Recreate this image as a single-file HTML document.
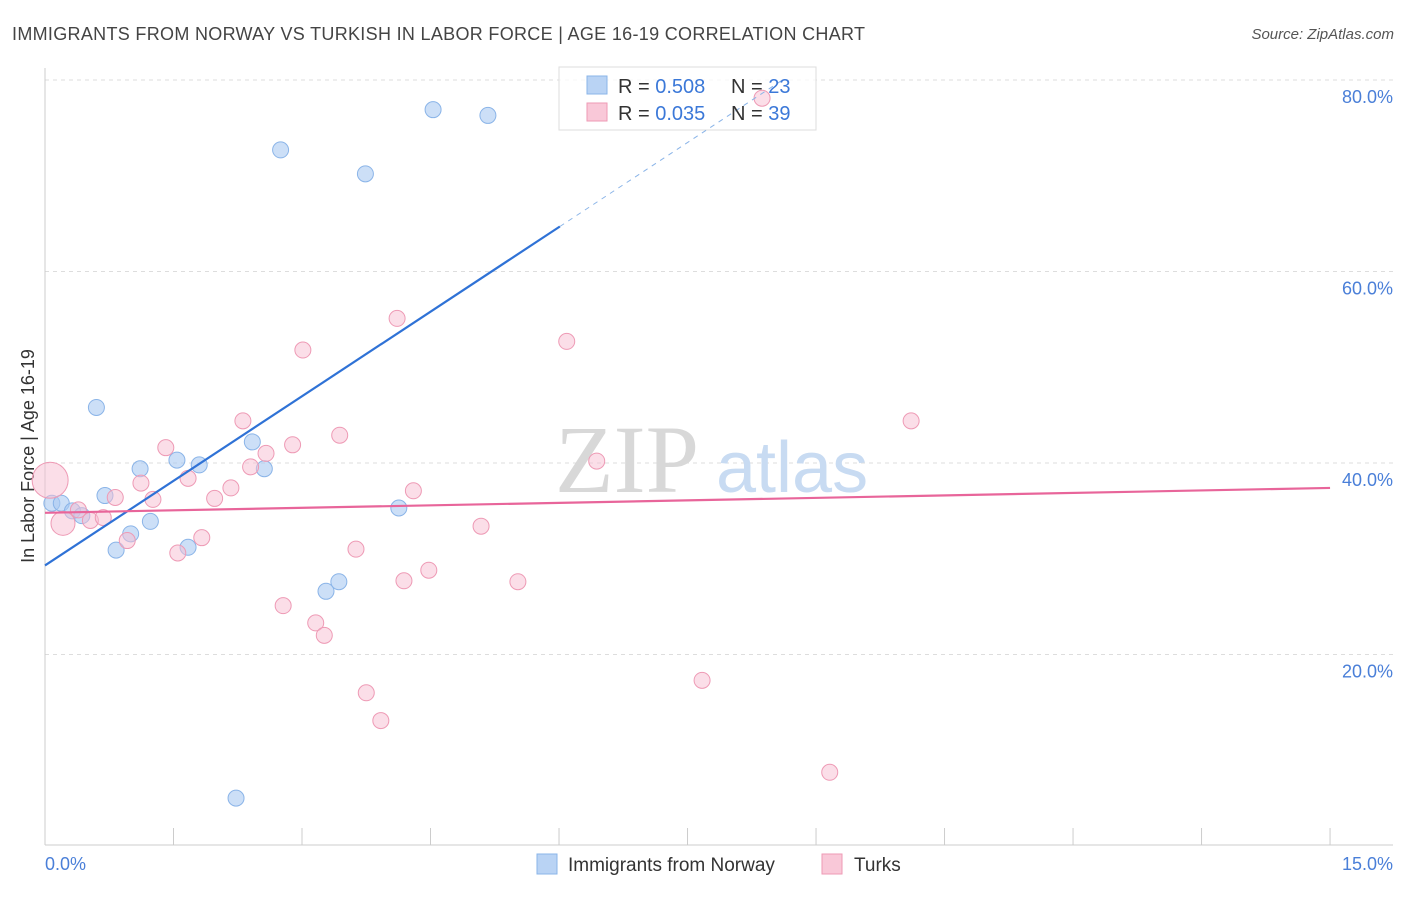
<!DOCTYPE html>
<html><head><meta charset="utf-8"><style>
body{margin:0;background:#fff;font-family:"Liberation Sans",sans-serif;}
</style></head><body>
<svg id="chart" width="1406" height="892" xmlns="http://www.w3.org/2000/svg">
<text x="12" y="40" font-size="18" fill="#444" textLength="853">IMMIGRANTS FROM NORWAY VS TURKISH IN LABOR FORCE | AGE 16-19 CORRELATION CHART</text>
<text x="1394" y="39" font-size="15" fill="#555" font-style="italic" text-anchor="end">Source: ZipAtlas.com</text>
<g id="grid"></g>
<text x="555" y="492" font-size="96" fill="#d8d8d8" font-family="Liberation Serif,serif">ZIP</text>
<text x="716" y="492" font-size="72" fill="#c8dbf2">atlas</text>
<line x1="45" y1="68" x2="45" y2="845" stroke="#ccc"/>
<line x1="45" y1="845" x2="1393" y2="845" stroke="#ccc"/>
<text transform="translate(34,456) rotate(-90)" font-size="18" fill="#333" text-anchor="middle">In Labor Force | Age 16-19</text>
<text x="45" y="870" font-size="18" fill="#4a7fd8">0.0%</text>
<text x="1393" y="870" font-size="18" fill="#4a7fd8" text-anchor="end">15.0%</text>
<rect x="559" y="67" width="257" height="63" fill="#fff" fill-opacity="0.75" stroke="#ddd"/>
<g id="marks"></g>
<rect x="587" y="76" width="20" height="18" fill="#b9d3f4" stroke="#8ab4e8"/>
<rect x="587" y="103" width="20" height="18" fill="#f9c8d8" stroke="#ee9ab5"/>
<text x="618" y="93" font-size="20" fill="#333">R = <tspan fill="#3b78d8">0.508</tspan></text>
<text x="731" y="93" font-size="20" fill="#333">N = <tspan fill="#3b78d8">23</tspan></text>
<text x="618" y="120" font-size="20" fill="#333">R = <tspan fill="#3b78d8">0.035</tspan></text>
<text x="731" y="120" font-size="20" fill="#333">N = <tspan fill="#3b78d8">39</tspan></text>
<rect x="537" y="854" width="20" height="20" fill="#b9d3f4" stroke="#8ab4e8"/>
<text x="568" y="871" font-size="19" fill="#333">Immigrants from Norway</text>
<rect x="822" y="854" width="20" height="20" fill="#f9c8d8" stroke="#ee9ab5"/>
<text x="854" y="871" font-size="19" fill="#333">Turks</text>
</svg>
<script>
const yTicks=[20,40,60,80];
const xTickCount=10;
const norwayX=[0.08,0.19,0.32,0.43,0.60,0.70,0.83,1.00,1.11,1.23,1.54,1.67,1.80,2.23,2.42,2.56,2.75,3.28,3.43,3.74,4.13,4.53,5.17];
const norwayY=[35.8,35.8,35.0,34.5,45.8,36.6,30.9,32.6,39.4,33.9,40.3,31.2,39.8,5.0,42.2,39.4,72.7,26.6,27.6,70.2,35.3,76.9,76.3];
const turksX=[0.06,0.21,0.39,0.53,0.68,0.82,0.96,1.12,1.26,1.41,1.55,1.67,1.83,1.98,2.17,2.31,2.40,2.58,2.78,2.89,3.01,3.16,3.26,3.44,3.63,3.75,3.92,4.11,4.19,4.30,4.48,5.09,5.52,6.09,6.44,7.67,8.37,9.16,10.11];
const turksY=[38.2,33.7,35.1,34.0,34.3,36.4,31.9,37.9,36.2,41.6,30.6,38.4,32.2,36.3,37.4,44.4,39.6,41.0,25.1,41.9,51.8,23.3,22.0,42.9,31.0,16.0,13.1,55.1,27.7,37.1,28.8,33.4,27.6,52.7,40.2,17.3,78.1,7.7,44.4];
const turksR=[18,12,8,8,8,8,8,8,8,8,8,8,8,8,8,8,8,8,8,8,8,8,8,8,8,8,8,8,8,8,8,8,8,8,8,8,8,8,8];
const norwayTrend=[29.3,5.89];
const turksTrend=[34.8,0.173];
const X=v=>45+v*85.67, Y=v=>846-v*9.575;
const NS="http://www.w3.org/2000/svg";
function mk(t,a,p){const e=document.createElementNS(NS,t);for(const k in a)e.setAttribute(k,a[k]);p.appendChild(e);return e;}
const grid=document.getElementById('grid'),marks=document.getElementById('marks');
yTicks.forEach(t=>{
 const l=mk('line',{x1:45,x2:1393,y1:Y(t),y2:Y(t),stroke:'#ddd','stroke-dasharray':'4,4'},grid);
 
 
 const tx=mk('text',{x:1393,y:Y(t)+23,'font-size':18,fill:'#4a7fd8','text-anchor':'end'},grid);
 tx.textContent=t.toFixed(1)+'%';
 
 
});
for(let i=0;i<=xTickCount;i++){
 const x=X(i*1.5);
 const l=mk('line',{x1:x,x2:x,y1:828,y2:845,stroke:'#ccc'},grid);
 
 
}
norwayX.forEach((v,i)=>{
 const c=mk('circle',{cx:X(v),cy:Y(norwayY[i]),r:8,fill:'rgba(170,202,242,0.6)',stroke:'#8ab4e8'},marks);
 
 
});
turksX.forEach((v,i)=>{
 const c=mk('circle',{cx:X(v),cy:Y(turksY[i]),r:turksR[i],fill:'rgba(248,190,210,0.5)',stroke:'#ee9ab5'},marks);
 
 
});
const f=(t,x)=>t[0]+t[1]*x;
let l=mk('line',{x1:X(0),y1:Y(f(norwayTrend,0)),x2:X(6.01),y2:Y(f(norwayTrend,6.01)),stroke:'#2f72d6','stroke-width':2.2},marks);


l=mk('line',{x1:X(6.01),y1:Y(f(norwayTrend,6.01)),x2:X(8.6),y2:Y(f(norwayTrend,8.6)),stroke:'#8ab4e8','stroke-width':1,'stroke-dasharray':'5,5'},marks);


l=mk('line',{x1:X(0),y1:Y(f(turksTrend,0)),x2:X(15),y2:Y(f(turksTrend,15)),stroke:'#e8659a','stroke-width':2.2},marks);


</script>
</body></html>
